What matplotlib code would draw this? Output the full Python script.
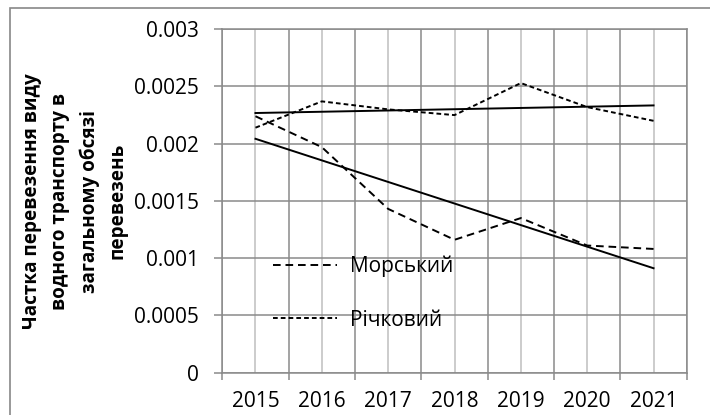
import numpy as np
import matplotlib
matplotlib.use("Agg")
import matplotlib.pyplot as plt
from matplotlib.patches import Rectangle

plt.rcParams['font.family'] = ['Open Sans', 'DejaVu Sans']
plt.rcParams['lines.scale_dashes'] = False

years = ['2015', '2016', '2017', '2018', '2019', '2020', '2021']
morskyi = [0.00224, 0.00197, 0.00143, 0.00116, 0.00135, 0.00111, 0.00108]
richkovyi = [0.00214, 0.00237, 0.00230, 0.00225, 0.00253, 0.00232, 0.00220]
yticks = [0, 0.0005, 0.001, 0.0015, 0.002, 0.0025, 0.003]
ytick_labels = ['0', '0.0005', '0.001', '0.0015', '0.002', '0.0025', '0.003']

fig = plt.figure(figsize=(7.1, 4.15), dpi=100)
ax = fig.add_axes([0.3131, 0.1024, 0.6541, 0.827])

# outer chart frame (runs off the right and bottom edges)
fig.patches.append(Rectangle((10 / 710, -0.05), 1.2, 1 - 8 / 415 + 0.05,
                             transform=fig.transFigure, fill=False,
                             edgecolor='#888888', lw=1.2))

x = np.arange(len(years))

# gridlines: darker at category borders, lighter at category centres
for b in np.arange(-0.5, len(years), 1.0):
    ax.axvline(b, color='#8a8a8a', lw=1.1, zorder=1)
for c in x:
    ax.axvline(c, color='#bfbfbf', lw=1.1, zorder=1)
for yv in yticks:
    ax.axhline(yv, color='#8a8a8a', lw=1.1, zorder=1)

l1, = ax.plot(x, morskyi, color='black', lw=1.4, linestyle=(0, (5.5, 3.5)),
              label='Морський', zorder=3)
l2, = ax.plot(x, richkovyi, color='black', lw=1.4, linestyle=(0, (3.4, 2.2)),
              label='Річковий', zorder=3)

# linear trend lines
for s in (morskyi, richkovyi):
    k, b0 = np.polyfit(x, s, 1)
    ax.plot(x, k * x + b0, color='black', lw=1.4, zorder=3)

ax.set_xlim(-0.5, len(years) - 0.5)
ax.set_ylim(0, 0.003)
ax.set_xticks(np.arange(-0.5, len(years), 1.0))
ax.set_xticklabels([])
ax.set_xticks(x, minor=True)
ax.set_xticklabels(years, minor=True)
ax.set_yticks(yticks)
ax.set_yticklabels(ytick_labels)
ax.tick_params(axis='x', which='major', length=5, width=1.1, color='#8a8a8a', direction='out')
ax.tick_params(axis='x', which='minor', length=0, pad=13, labelsize=15)
ax.tick_params(axis='y', length=6, width=1.1, color='#8a8a8a', pad=11, labelsize=15)

for sp in ax.spines.values():
    sp.set_color('#8a8a8a')
    sp.set_linewidth(1.1)

fig.text(75 / 710, 0.515,
         'Частка перевезення виду\nводного транспорту в\nзагальному обсязі\nперевезень',
         rotation=90, ha='center', va='center', multialignment='center',
         fontsize=13.6, fontweight='bold', linespacing=1.55)

ax.legend(handles=[l1, l2], loc='center left', bbox_to_anchor=(0.1085, 0.2305),
          frameon=False, borderaxespad=0, borderpad=0, handlelength=3.1,
          handletextpad=0.6, labelspacing=1.55, fontsize=15)

fig.savefig('out.png', dpi=100)
